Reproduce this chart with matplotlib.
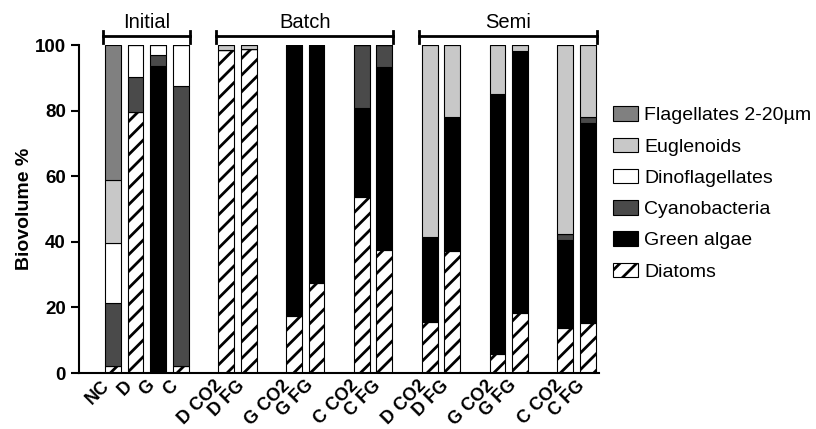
import matplotlib
matplotlib.use("Agg")
import matplotlib.pyplot as plt
import numpy as np

plt.rcParams['font.family'] = ['Liberation Sans', 'DejaVu Sans']
plt.rcParams['hatch.linewidth'] = 2.0

labels = ["NC", "D", "G", "C",
          "D CO2", "D FG", "G CO2", "G FG", "C CO2", "C FG",
          "D CO2", "D FG", "G CO2", "G FG", "C CO2", "C FG"]
slots = [0, 1, 2, 3, 5, 6, 8, 9, 11, 12, 14, 15, 17, 18, 20, 21]

# stacked bottom -> top
diatoms = [2.0, 79.7, 0.0, 2.0, 98.6, 98.8, 17.4, 27.3, 53.7, 37.5,
           15.7, 37.3, 5.9, 18.2, 13.7, 15.2]
green = [0.0, 0.0, 93.7, 0.0, 0.0, 0.0, 82.6, 72.7, 27.2, 55.7,
         25.8, 40.9, 79.2, 79.9, 27.0, 61.1]
cyano = [19.5, 10.5, 3.3, 85.6, 0.0, 0.0, 0.0, 0.0, 19.1, 6.8,
         0.0, 0.0, 0.0, 0.0, 1.7, 1.7]
dino = [18.0, 9.8, 3.0, 12.4, 0.0, 0.0, 0.0, 0.0, 0.0, 0.0,
        0.0, 0.0, 0.0, 0.0, 0.0, 0.0]
eugl = [19.5, 0.0, 0.0, 0.0, 1.4, 1.2, 0.0, 0.0, 0.0, 0.0,
        58.5, 21.8, 14.9, 1.9, 57.6, 22.0]
flag = [41.0, 0.0, 0.0, 0.0, 0.0, 0.0, 0.0, 0.0, 0.0, 0.0,
        0.0, 0.0, 0.0, 0.0, 0.0, 0.0]

groups = ["Initial", "Batch", "Semi"]
group_slots = [(0, 3), (5, 12), (14, 21)]

series = [
    ("Diatoms", diatoms, "white", "//"),
    ("Green algae", green, "black", None),
    ("Cyanobacteria", cyano, "#4a4a4a", None),
    ("Dinoflagellates", dino, "white", None),
    ("Euglenoids", eugl, "#c8c8c8", None),
    ("Flagellates 2-20\u00b5m", flag, "#808080", None),
]

fig = plt.figure(figsize=(8.16, 4.29), dpi=100)
ax = fig.add_axes([0.0968, 0.1305, 0.6374, 0.7645])

x = np.array(slots, dtype=float)
bottom = np.zeros(len(slots))
handles = []
for name, vals, col, hatch in series:
    vals = np.array(vals)
    b = ax.bar(x, vals, 0.7, bottom=bottom, color=col, edgecolor="black",
               linewidth=0.8, hatch=hatch, label=name)
    handles.append(b)
    bottom += vals

ax.set_ylim(0, 100)
ax.set_xlim(-1.5, 21.49)
ax.set_yticks([0, 20, 40, 60, 80, 100])
ax.set_xticks(x)
ax.set_xticklabels(labels, rotation=45, ha="right", fontweight="bold", fontsize=13)
ax.tick_params(axis="x", length=0, pad=3)
ax.tick_params(axis="y", length=6, width=1.5, labelsize=13.5)
for t in ax.get_yticklabels():
    t.set_fontweight("bold")
ax.set_ylabel("Biovolume %", fontweight="bold", fontsize=14, labelpad=1)
for s in ["top", "right"]:
    ax.spines[s].set_visible(False)
for s in ["left", "bottom"]:
    ax.spines[s].set_linewidth(1.5)

# group brackets
for g, (a, b) in zip(groups, group_slots):
    x0, x1 = a - 0.45, b + 0.4
    ax.plot([x0, x1], [102.7, 102.7], color="black", lw=2, clip_on=False)
    ax.plot([x0, x0], [100.6, 104.2], color="black", lw=2, clip_on=False)
    ax.plot([x1, x1], [100.6, 104.2], color="black", lw=2, clip_on=False)
    ax.text((x0 + x1) / 2, 107.0, g, ha="center", va="center", fontsize=14.5, clip_on=False)

fig.legend(handles[::-1], [s[0] for s in series][::-1], loc="upper left",
           bbox_to_anchor=(0.751, 0.752), frameon=False, fontsize=14,
           handlelength=1.3, handleheight=0.77, handletextpad=0.3,
           labelspacing=0.68, borderpad=0, borderaxespad=0)

fig.savefig("out.png", dpi=100)
